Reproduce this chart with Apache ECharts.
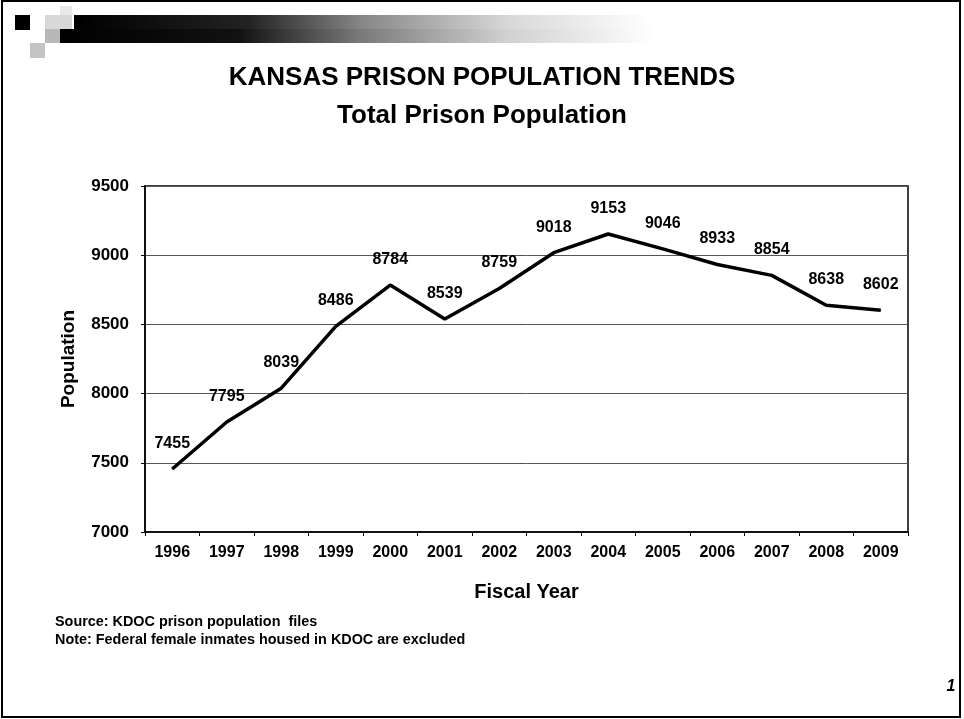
<!DOCTYPE html>
<html>
<head>
<meta charset="utf-8">
<style>
  html, body { margin: 0; padding: 0; background: #fff; }
  #chart { width: 964px; height: 719px; }
</style>
<script src="https://cdn.jsdelivr.net/npm/echarts@6/dist/echarts.min.js"></script>
</head>
<body>
<div id="chart"></div>
<script>
// Fiscal years and total prison population
const years = ['1996', '1997', '1998', '1999', '2000', '2001', '2002', '2003', '2004', '2005', '2006', '2007', '2008', '2009'];
const population = [7455, 7795, 8039, 8486, 8784, 8539, 8759, 9018, 9153, 9046, 8933, 8854, 8638, 8602];
const yTicks = { min: 7000, max: 9500, step: 500 };

const titleMain = 'KANSAS PRISON POPULATION TRENDS';
const titleSub = 'Total Prison Population';
const notes = ['Source: KDOC prison population  files', 'Note: Federal female inmates housed in KDOC are excluded'];
const pageNo = '1';

const FONT = '"Liberation Sans", Arial, sans-serif';
const chart = echarts.init(document.getElementById('chart'));

chart.setOption({
  animation: false,
  backgroundColor: '#fff',
  grid: {
    left: 145, right: 56, top: 186, bottom: 187,
    show: true, borderColor: '#000', borderWidth: 1.5, backgroundColor: 'transparent'
  },
  xAxis: {
    type: 'category',
    data: years,
    boundaryGap: true,
    axisLine: { lineStyle: { color: '#000', width: 1.5 } },
    axisTick: { show: true, length: 4, lineStyle: { color: '#000' } },
    axisLabel: { color: '#000', fontFamily: FONT, fontWeight: 'bold', fontSize: 16, margin: 13 },
    name: 'Fiscal Year',
    nameLocation: 'middle',
    nameGap: 50,
    nameTextStyle: { color: '#000', fontFamily: FONT, fontWeight: 'bold', fontSize: 20 }
  },
  yAxis: {
    type: 'value',
    min: yTicks.min, max: yTicks.max, interval: yTicks.step,
    axisLine: { show: true, lineStyle: { color: '#000', width: 1.5 } },
    axisTick: { show: true, length: 4, lineStyle: { color: '#000' } },
    axisLabel: {
      color: '#000', fontFamily: FONT, fontWeight: 'bold', fontSize: 17, margin: 16,
      formatter: v => String(v)
    },
    splitLine: { show: true, lineStyle: { color: '#555', width: 1 } },
    name: 'Population',
    nameLocation: 'middle',
    nameGap: 67,
    nameRotate: 90,
    nameTextStyle: { color: '#000', fontFamily: FONT, fontWeight: 'bold', fontSize: 19 }
  },
  series: [{
    type: 'line',
    data: population,
    symbol: 'circle',
    symbolSize: 1,
    showSymbol: true,
    itemStyle: { color: '#000' },
    lineStyle: { color: '#000', width: 3.5 },
    label: {
      show: true, position: 'top', distance: 17,
      color: '#000', fontFamily: FONT, fontWeight: 'bold', fontSize: 16
    }
  }],
  graphic: [
    // slide frame
    { type: 'rect', shape: { x: 2, y: 1, width: 958, height: 716 }, style: { fill: 'none', stroke: '#000', lineWidth: 2 }, silent: true },
    // header ornament
    { type: 'rect', shape: { x: 15, y: 15, width: 15, height: 15 }, style: { fill: '#000' }, silent: true },
    { type: 'rect', shape: { x: 45, y: 15, width: 27, height: 14 }, style: { fill: '#d8d8d8' }, silent: true },
    { type: 'rect', shape: { x: 60, y: 6, width: 12, height: 9 }, style: { fill: '#e8e8e8' }, silent: true },
    { type: 'rect', shape: { x: 45, y: 29, width: 15, height: 14 }, style: { fill: '#b8b8b8' }, silent: true },
    { type: 'rect', shape: { x: 30, y: 43, width: 15, height: 15 }, style: { fill: '#c4c4c4' }, silent: true },
    {
      type: 'rect', shape: { x: 74, y: 15, width: 580, height: 14 }, silent: true,
      style: { fill: new echarts.graphic.LinearGradient(0, 0, 1, 0, [
        { offset: 0, color: '#000' }, { offset: 0.3, color: '#222' }, { offset: 0.5, color: '#888' },
        { offset: 0.75, color: '#d8d8d8' }, { offset: 1, color: '#fff' }]) }
    },
    {
      type: 'rect', shape: { x: 60, y: 29, width: 594, height: 14 }, silent: true,
      style: { fill: new echarts.graphic.LinearGradient(0, 0, 1, 0, [
        { offset: 0, color: '#000' }, { offset: 0.3, color: '#111' }, { offset: 0.5, color: '#777' },
        { offset: 0.75, color: '#d0d0d0' }, { offset: 1, color: '#fff' }]) }
    },
    // titles
    { type: 'text', x: 482, y: 78, silent: true,
      style: { text: titleMain, fill: '#000', font: 'bold 26px ' + FONT, textAlign: 'center', textVerticalAlign: 'middle' } },
    { type: 'text', x: 482, y: 116, silent: true,
      style: { text: titleSub, fill: '#000', font: 'bold 26px ' + FONT, textAlign: 'center', textVerticalAlign: 'middle' } },
    // notes
    { type: 'text', x: 55, y: 622, silent: true,
      style: { text: notes[0], fill: '#000', font: 'bold 14.4px ' + FONT, textAlign: 'left', textVerticalAlign: 'middle' } },
    { type: 'text', x: 55, y: 640, silent: true,
      style: { text: notes[1], fill: '#000', font: 'bold 14.4px ' + FONT, textAlign: 'left', textVerticalAlign: 'middle' } },
    // page number
    { type: 'text', x: 951, y: 687, silent: true,
      style: { text: pageNo, fill: '#000', font: 'italic bold 16px ' + FONT, textAlign: 'center', textVerticalAlign: 'middle' } }
  ]
});
</script>
</body>
</html>
